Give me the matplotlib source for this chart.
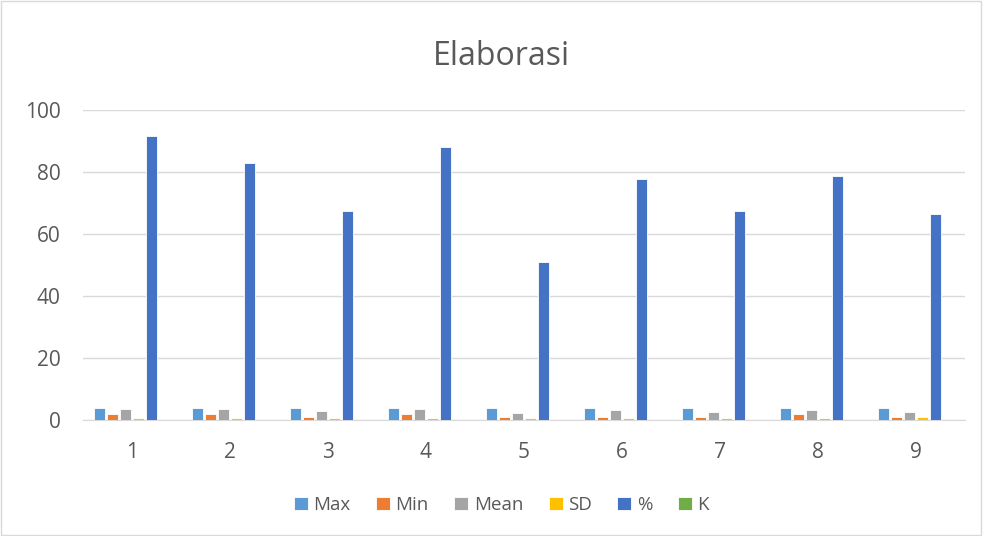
import numpy as np
import matplotlib
matplotlib.use('Agg')
import matplotlib.pyplot as plt
from matplotlib.patches import Rectangle

categories = ['1', '2', '3', '4', '5', '6', '7', '8', '9']
max_vals = [4, 4, 4, 4, 4, 4, 4, 4, 4]
min_vals = [2, 2, 1, 2, 1, 1, 1, 2, 1]
mean_vals = [3.7, 3.4, 2.8, 3.6, 2.1, 3.1, 2.7, 3.3, 2.7]
sd_vals = [0.5, 0.7, 0.6, 0.5, 0.7, 0.8, 0.7, 0.6, 1.0]
pct_vals = [91.5, 83, 67.3, 88, 51, 77.7, 67.3, 78.6, 66.5]
k_vals = [0, 0, 0, 0, 0, 0, 0, 0, 0]

series = [('Max', max_vals, '#5b9bd5'), ('Min', min_vals, '#ed7d31'),
          ('Mean', mean_vals, '#a5a5a5'), ('SD', sd_vals, '#ffc000'),
          ('%', pct_vals, '#4472c4'), ('K', k_vals, '#70ad47')]

plt.rcParams['font.family'] = ['Open Sans', 'DejaVu Sans']

fig = plt.figure(figsize=(9.83, 5.36), dpi=100)
fig.patches.append(Rectangle((0.001, 0.001), 0.997, 0.997, transform=fig.transFigure,
                             fill=False, edgecolor='#d9d9d9', linewidth=1))
ax = fig.add_axes([0.0844, 0.2164, 0.8973, 0.5784])

x = np.arange(1, len(categories) + 1)
step = 0.133
for i, (name, vals, color) in enumerate(series):
    ax.bar(x + (i - 2.5) * step, vals, width=0.11, color=color, label=name,
           edgecolor='white', linewidth=0.6, zorder=3)

ax.set_xlim(0.5, 9.5)
ax.set_ylim(0, 100)
ax.set_yticks(range(0, 101, 20))
ax.set_xticks(x)
ax.set_xticklabels(categories)
ax.grid(axis='y', color='#d9d9d9', linewidth=1, zorder=0)
for s in ['top', 'right', 'left']:
    ax.spines[s].set_visible(False)
ax.spines['bottom'].set_color('#d9d9d9')
ax.tick_params(length=0, labelsize=15, colors='#595959')
ax.tick_params(axis='y', pad=16)
ax.tick_params(axis='x', pad=16)

fig.text(0.51, 0.895, 'Elaborasi', ha='center', va='center', fontsize=23, color='#595959')
fig.legend(loc='center', bbox_to_anchor=(0.51, 0.058), ncol=6, frameon=False,
           fontsize=13.5, handlelength=0.75, handleheight=0.75, columnspacing=1.35,
           handletextpad=0.3, labelcolor='#595959')

plt.savefig('out.png', dpi=100)
